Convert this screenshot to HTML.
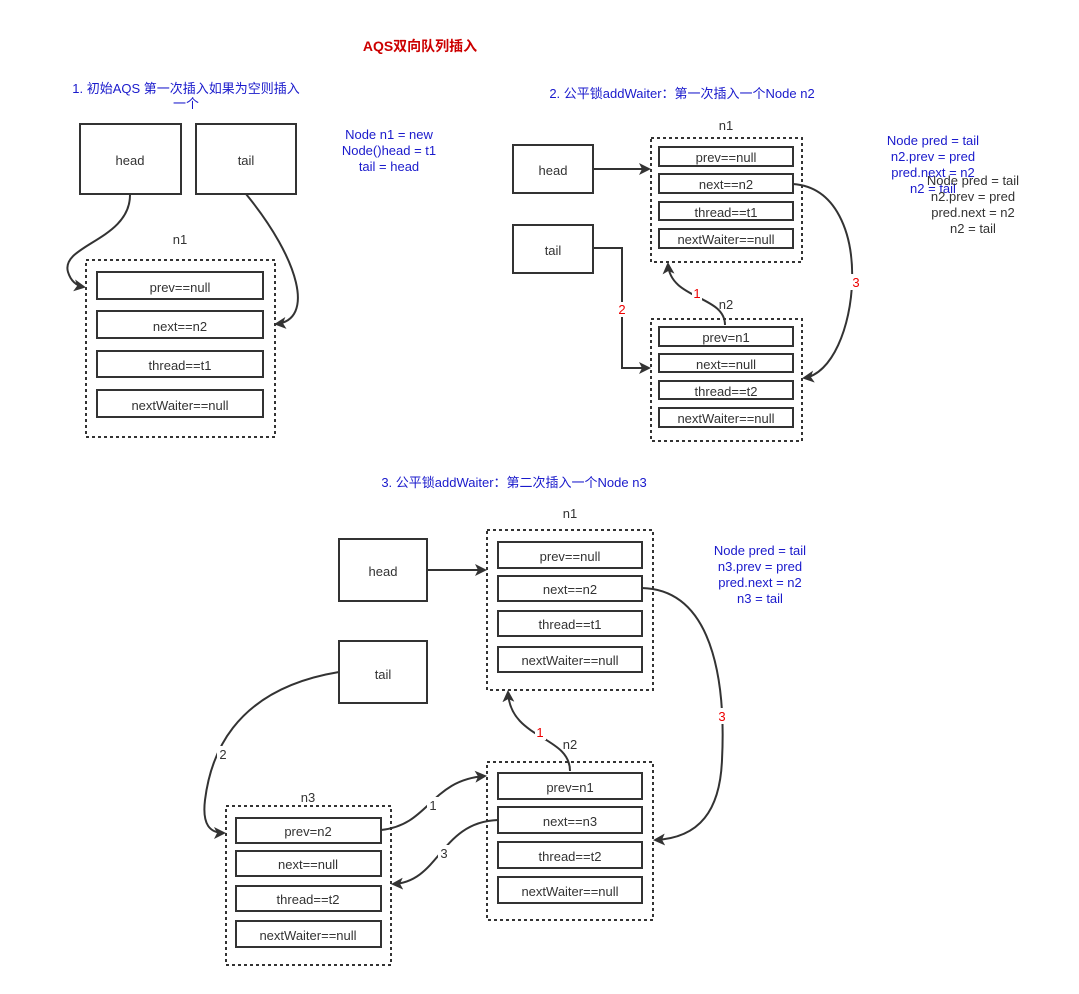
<!DOCTYPE html>
<html><head><meta charset="utf-8"><style>
body{margin:0;background:#fff;}
svg text{font-family:"Liberation Sans","Noto Sans CJK SC",sans-serif;font-size:13px;}
</style></head><body>
<svg width="1079" height="989" viewBox="0 0 1079 989" xmlns="http://www.w3.org/2000/svg">
<defs><marker id="a" markerWidth="12" markerHeight="12" refX="10" refY="6" orient="auto" markerUnits="userSpaceOnUse"><path d="M0,0 L12,6 L0,12 L3,6z" fill="#333"/></marker></defs>
<g fill="none" stroke="#333" stroke-width="2">
<rect x="80" y="124" width="101" height="70"/><rect x="196" y="124" width="100" height="70"/>
<rect x="86" y="260" width="189" height="177" stroke-dasharray="3,3"/>
<rect x="97" y="272" width="166" height="27"/><rect x="97" y="311" width="166" height="27"/><rect x="97" y="351" width="166" height="26"/><rect x="97" y="390" width="166" height="27"/>
<path d="M130,195 C130,240 60,245 68,272 Q72,285 84,287" marker-end="url(#a)"/>
<path d="M246,194 C300,260 315,320 276,324" marker-end="url(#a)"/>
<rect x="513" y="145" width="80" height="48"/><rect x="513" y="225" width="80" height="48"/>
<rect x="651" y="138" width="151" height="124" stroke-dasharray="3,3"/>
<rect x="659" y="147" width="134" height="19"/><rect x="659" y="174" width="134" height="19"/><rect x="659" y="202" width="134" height="18"/><rect x="659" y="229" width="134" height="19"/>
<rect x="651" y="319" width="151" height="122" stroke-dasharray="3,3"/>
<rect x="659" y="327" width="134" height="19"/><rect x="659" y="354" width="134" height="18"/><rect x="659" y="381" width="134" height="18"/><rect x="659" y="408" width="134" height="19"/>
<path d="M593,169 L649,169" marker-end="url(#a)"/>
<path d="M593,248 L622,248 L622,368 L649,368" marker-end="url(#a)"/>
<path d="M725,325 C725,295 670,300 668,264" marker-end="url(#a)"/>
<path d="M793,184 C880,190 860,370 804,378" marker-end="url(#a)"/>
<rect x="339" y="539" width="88" height="62"/><rect x="339" y="641" width="88" height="62"/>
<rect x="487" y="530" width="166" height="160" stroke-dasharray="3,3"/>
<rect x="498" y="542" width="144" height="26"/><rect x="498" y="576" width="144" height="25"/><rect x="498" y="611" width="144" height="25"/><rect x="498" y="647" width="144" height="25"/>
<rect x="487" y="762" width="166" height="158" stroke-dasharray="3,3"/>
<rect x="498" y="773" width="144" height="26"/><rect x="498" y="807" width="144" height="26"/><rect x="498" y="842" width="144" height="26"/><rect x="498" y="877" width="144" height="26"/>
<rect x="226" y="806" width="165" height="159" stroke-dasharray="3,3"/>
<rect x="236" y="818" width="145" height="25"/><rect x="236" y="851" width="145" height="25"/><rect x="236" y="886" width="145" height="25"/><rect x="236" y="921" width="145" height="26"/>
<path d="M427,570 L485,570" marker-end="url(#a)"/>
<path d="M570,771 C570,735 510,740 508,692" marker-end="url(#a)"/>
<path d="M642,588 C720,590 725,700 722,760 C720,810 700,838 655,840" marker-end="url(#a)"/>
<path d="M339,672 C230,690 210,760 205,800 C202,825 210,833 224,833" marker-end="url(#a)"/>
<path d="M381,830 C430,825 430,780 485,776" marker-end="url(#a)"/>
<path d="M498,820 C440,822 440,882 393,884" marker-end="url(#a)"/>
</g>
<g fill="#fff">
<rect x="616" y="302" width="12" height="15"/><rect x="692" y="286" width="10" height="15"/><rect x="850" y="274" width="11" height="16"/>
<rect x="535" y="724" width="11" height="16"/><rect x="716" y="708" width="12" height="16"/>
<rect x="217" y="746" width="12" height="16"/><rect x="427" y="797" width="12" height="16"/><rect x="438" y="845" width="12" height="16"/>
</g>
<g text-anchor="middle" fill="#333">
<text x="420" y="51" fill="#cc0000" font-weight="bold" style="font-size:14px">AQS双向队列插入</text>
<text x="186" y="93" fill="#1a1acc">1. 初始AQS 第一次插入如果为空则插入</text>
<text x="186" y="108" fill="#1a1acc">一个</text>
<text x="389" y="139" fill="#1a1acc">Node n1 = new</text>
<text x="389" y="155" fill="#1a1acc">Node()head = t1</text>
<text x="389" y="171" fill="#1a1acc">tail = head</text>
<text x="130" y="165">head</text><text x="246" y="165">tail</text>
<text x="180" y="244">n1</text>
<text x="180" y="292">prev==null</text><text x="180" y="331">next==n2</text><text x="180" y="370">thread==t1</text><text x="180" y="410">nextWaiter==null</text>
<text x="682" y="98" fill="#1a1acc">2. 公平锁addWaiter：第一次插入一个Node n2</text>
<text x="726" y="130">n1</text><text x="726" y="309">n2</text>
<text x="553" y="175">head</text><text x="553" y="255">tail</text>
<text x="726" y="162">prev==null</text><text x="726" y="189">next==n2</text><text x="726" y="217">thread==t1</text><text x="726" y="244">nextWaiter==null</text>
<text x="726" y="342">prev=n1</text><text x="726" y="369">next==null</text><text x="726" y="396">thread==t2</text><text x="726" y="423">nextWaiter==null</text>
<text x="622" y="314" fill="#e00">2</text><text x="697" y="298" fill="#e00">1</text><text x="856" y="287" fill="#e00">3</text>
<text x="933" y="145" fill="#1a1acc">Node pred = tail</text>
<text x="933" y="161" fill="#1a1acc">n2.prev = pred</text>
<text x="933" y="177" fill="#1a1acc">pred.next = n2</text>
<text x="933" y="193" fill="#1a1acc">n2 = tail</text>
<text x="973" y="185">Node pred = tail</text>
<text x="973" y="201">n2.prev = pred</text>
<text x="973" y="217">pred.next = n2</text>
<text x="973" y="233">n2 = tail</text>
<text x="514" y="487" fill="#1a1acc">3. 公平锁addWaiter：第二次插入一个Node n3</text>
<text x="570" y="518">n1</text><text x="570" y="749">n2</text><text x="308" y="802">n3</text>
<text x="383" y="576">head</text><text x="383" y="679">tail</text>
<text x="570" y="561">prev==null</text><text x="570" y="594">next==n2</text><text x="570" y="629">thread==t1</text><text x="570" y="665">nextWaiter==null</text>
<text x="570" y="792">prev=n1</text><text x="570" y="826">next==n3</text><text x="570" y="861">thread==t2</text><text x="570" y="896">nextWaiter==null</text>
<text x="308" y="836">prev=n2</text><text x="308" y="869">next==null</text><text x="308" y="904">thread==t2</text><text x="308" y="940">nextWaiter==null</text>
<text x="540" y="737" fill="#e00">1</text><text x="722" y="721" fill="#e00">3</text>
<text x="223" y="759">2</text><text x="433" y="810">1</text><text x="444" y="858">3</text>
<text x="760" y="555" fill="#1a1acc">Node pred = tail</text>
<text x="760" y="571" fill="#1a1acc">n3.prev = pred</text>
<text x="760" y="587" fill="#1a1acc">pred.next = n2</text>
<text x="760" y="603" fill="#1a1acc">n3 = tail</text>
</g>
</svg>
</body></html>
